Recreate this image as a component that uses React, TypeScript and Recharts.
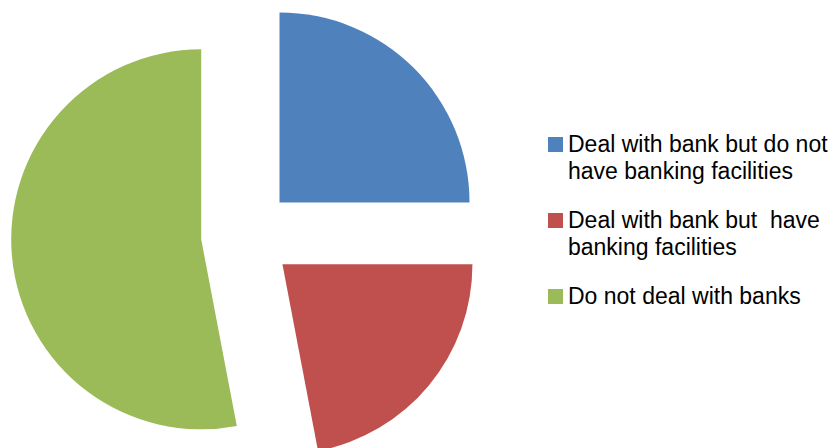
import React from "react";
import { PieChart, Pie, Cell, Legend } from "recharts";

const categories = [
  "Deal with bank but do not have banking facilities",
  "Deal with bank but  have banking facilities",
  "Do not deal with banks",
];
const legendLines = [
  ["Deal with bank but do not", "have banking facilities"],
  ["Deal with bank but\u00a0 have", "banking facilities"],
  ["Do not deal with banks"],
];
const values = [25, 22, 53];
const colors = ["#4F81BD", "#C0504D", "#9BBB59"];

const data = categories.map((name, i) => ({ name, value: values[i] }));

const W = 835;
const H = 448;
const CX = 247;
const CY = 235;
const R = 190;
const EXPLODE = 46;

const total = values.reduce((a, b) => a + b, 0);
const mids: number[] = [];
{
  let acc = 0;
  values.forEach((v) => {
    mids.push(((acc + v / 2) / total) * 2 * Math.PI);
    acc += v;
  });
}

const LegendContent = () => (
  <div
    style={{
      fontFamily: '"Liberation Sans", Arial, sans-serif',
      fontSize: 23,
      color: "#000",
    }}
  >
    {legendLines.map((lines, i) => (
      <div key={i} style={{ position: "relative", marginBottom: 22 }}>
        <div
          style={{
            position: "absolute",
            left: 0,
            top: 6,
            width: 15,
            height: 15,
            background: colors[i],
          }}
        />
        <div style={{ marginLeft: 20, lineHeight: "27px", whiteSpace: "nowrap" }}>
          {lines.map((l, j) => (
            <div key={j}>{l}</div>
          ))}
        </div>
      </div>
    ))}
  </div>
);

export default function App() {
  return (
    <div style={{ position: "absolute", left: 0, top: 0, width: W, height: H, background: "#fff" }}>
      <PieChart width={W} height={H} margin={{ top: 0, right: 0, bottom: 0, left: 0 }}>
        {data.map((_, k) => (
          <Pie
            key={k}
            data={data}
            dataKey="value"
            nameKey="name"
            cx={CX + EXPLODE * Math.sin(mids[k])}
            cy={CY - EXPLODE * Math.cos(mids[k])}
            outerRadius={R}
            innerRadius={0}
            startAngle={90}
            endAngle={-270}
            stroke="none"
            isAnimationActive={false}
            legendType="none"
          >
            {data.map((_, i) => (
              <Cell key={i} fill={i === k ? colors[i] : "transparent"} stroke="none" />
            ))}
          </Pie>
        ))}
        <Legend
          content={<LegendContent />}
          wrapperStyle={{ position: "absolute", left: 548, top: 131, width: 290 }}
        />
      </PieChart>
    </div>
  );
}
